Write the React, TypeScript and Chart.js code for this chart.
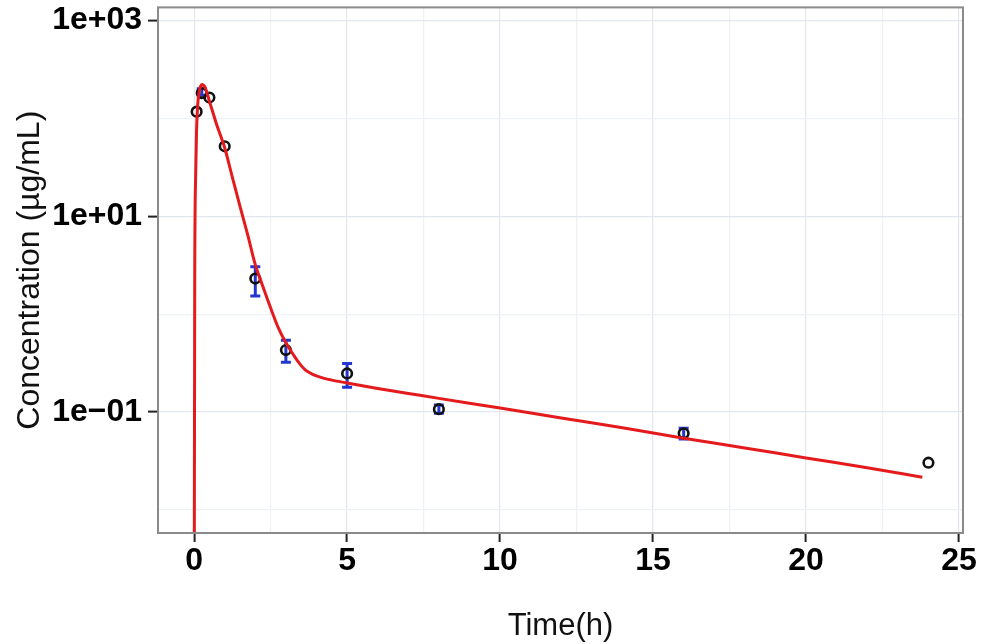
import React, { useEffect, useRef } from 'react';
import { Chart, registerables } from 'chart.js';

Chart.register(...registerables);

// Observed concentrations (mean) at each sampling time, with SD limits
const sampleTimes = [0.083, 0.25, 0.5, 1, 2, 3, 5, 8, 16, 24];
const meanConc = [117, 181, 163, 51.8, 2.31, 0.43, 0.248, 0.107, 0.0607, 0.0304];
const errLower = [null, 172, null, null, 1.53, 0.323, 0.179, 0.097, 0.053, null];
const errUpper = [null, 200, null, null, 3.04, 0.54, 0.314, 0.118, 0.0684, null];

// Model-predicted concentration curve
const fitTimes = [
  0, 0.02, 0.05, 0.08, 0.12, 0.17, 0.22, 0.26, 0.3, 0.36, 0.5, 0.75, 1, 1.25, 1.5, 1.75,
  2, 2.25, 2.5, 2.75, 3, 3.125, 3.25, 3.375, 3.5, 3.625, 3.75, 3.875, 4, 4.25, 4.5, 5,
  6, 7, 8, 10, 12, 14, 16, 18, 20, 22, 23.8,
];
const fitConc = [
  0.0001, 2, 25, 75, 140, 190, 215, 222, 218, 207, 150, 84, 50, 25, 12.6, 6.5,
  3.2, 1.91, 1.16, 0.73, 0.51, 0.44, 0.383, 0.335, 0.298, 0.272, 0.255, 0.243, 0.234, 0.221, 0.212, 0.198,
  0.174, 0.155, 0.138, 0.11, 0.087, 0.069, 0.054, 0.043, 0.034, 0.027, 0.0216,
];

// Axis ticks
const xMajorTicks = [0, 5, 10, 15, 20, 25];
const xTickLabels = ['0', '5', '10', '15', '20', '25'];
const xMinorTicks = [2.5, 7.5, 12.5, 17.5, 22.5];
const yMajorTicks = [0.1, 10, 1000];
const yTickLabels = ['1e\u221201', '1e+01', '1e+03'];
const yMinorTicks = [0.01, 1, 100];

const xTitle = 'Time(h)';
const yTitle = 'Concentration (\u00b5g/mL)';

const near = (a: number, b: number) => Math.abs(a - b) <= Math.abs(b) * 1e-6 + 1e-9;
const majorIndex = (list: number[], v: number) => list.findIndex((m) => near(v, m));

const FONT = "'Liberation Sans', Arial, Helvetica, sans-serif";

const errorBarPlugin = {
  id: 'errorBars',
  beforeDatasetsDraw(chart: any) {
    const { ctx, scales } = chart;
    const x = scales.x;
    const y = scales.y;
    ctx.save();
    ctx.strokeStyle = '#2436d0';
    ctx.lineWidth = 3;
    sampleTimes.forEach((t, i) => {
      const lo = errLower[i];
      const hi = errUpper[i];
      if (lo == null || hi == null) return;
      const px = x.getPixelForValue(t);
      const yl = y.getPixelForValue(lo);
      const yh = y.getPixelForValue(hi);
      const w = 5;
      ctx.beginPath();
      ctx.moveTo(px, yl);
      ctx.lineTo(px, yh);
      ctx.moveTo(px - w, yl);
      ctx.lineTo(px + w, yl);
      ctx.moveTo(px - w, yh);
      ctx.lineTo(px + w, yh);
      ctx.stroke();
    });
    ctx.restore();
  },
};

const panelBorderPlugin = {
  id: 'panelBorder',
  afterDatasetsDraw(chart: any) {
    const { ctx, chartArea } = chart;
    ctx.save();
    ctx.strokeStyle = '#8a8a8a';
    ctx.lineWidth = 2;
    ctx.strokeRect(chartArea.left, chartArea.top, chartArea.right - chartArea.left, chartArea.bottom - chartArea.top);
    ctx.restore();
  },
};

export default function App() {
  const canvasRef = useRef<HTMLCanvasElement>(null);

  useEffect(() => {
    const canvas = canvasRef.current;
    if (!canvas) return;

    const chart = new Chart(canvas, {
      type: 'line',
      data: {
        datasets: [
          {
            type: 'line',
            label: 'Predicted',
            data: fitTimes.map((t, i) => ({ x: t, y: fitConc[i] })),
            borderColor: '#e41a1c',
            borderWidth: 3,
            pointRadius: 0,
            cubicInterpolationMode: 'monotone',
            fill: false,
            order: 1,
          },
          {
            type: 'scatter',
            label: 'Observed',
            data: sampleTimes.map((t, i) => ({ x: t, y: meanConc[i] })),
            pointStyle: 'circle',
            pointRadius: 4.8,
            pointBorderWidth: 2.6,
            pointBorderColor: '#111',
            pointBackgroundColor: 'rgba(0,0,0,0)',
            showLine: false,
            order: 2,
          } as any,
        ],
      },
      options: {
        animation: false,
        responsive: false,
        devicePixelRatio: 1,
        layout: { padding: { top: 7, right: 19, left: 0, bottom: 0 } },
        plugins: {
          legend: { display: false },
          tooltip: { enabled: false },
        },
        scales: {
          x: {
            type: 'linear',
            min: -1.18,
            max: 25.13,
            afterBuildTicks: (scale: any) => {
              scale.ticks = [...xMajorTicks, ...xMinorTicks].sort((a, b) => a - b).map((v) => ({ value: v }));
            },
            afterFit: (scale: any) => {
              scale.height = 111;
              scale.paddingLeft = 0;
              scale.paddingRight = 0;
            },
            border: { display: false },
            grid: {
              color: (c: any) => (majorIndex(xMajorTicks, c.tick?.value) >= 0 ? '#e2e6ee' : '#eef1f6'),
              lineWidth: 1.2,
              drawTicks: true,
              tickLength: 9,
              tickWidth: 2,
              tickColor: (c: any) => (majorIndex(xMajorTicks, c.tick?.value) >= 0 ? '#222' : 'rgba(0,0,0,0)'),
            },
            ticks: {
              autoSkip: false,
              maxRotation: 0,
              padding: 0,
              color: '#000',
              font: { family: FONT, size: 32, weight: 'bold' },
              callback: (v: any) => {
                const i = majorIndex(xMajorTicks, Number(v));
                return i >= 0 ? xTickLabels[i] : '';
              },
            },
            title: {
              display: true,
              text: xTitle,
              color: '#111',
              font: { family: FONT, size: 31, lineHeight: 1.2 },
              padding: { top: 0, bottom: -1 },
            },
          },
          y: {
            type: 'logarithmic',
            min: 0.00582,
            max: 1358,
            afterBuildTicks: (scale: any) => {
              scale.ticks = [...yMajorTicks, ...yMinorTicks].sort((a, b) => a - b).map((v) => ({ value: v }));
            },
            afterFit: (scale: any) => {
              scale.width = 158;
              scale.paddingTop = 0;
              scale.paddingBottom = 0;
            },
            border: { display: false },
            grid: {
              color: (c: any) => (majorIndex(yMajorTicks, c.tick?.value) >= 0 ? '#e2e6ee' : '#eef1f6'),
              lineWidth: 1.2,
              drawTicks: true,
              tickLength: 10,
              tickWidth: 2,
              tickColor: (c: any) => (majorIndex(yMajorTicks, c.tick?.value) >= 0 ? '#222' : 'rgba(0,0,0,0)'),
            },
            ticks: {
              autoSkip: false,
              padding: 6,
              color: '#000',
              font: { family: FONT, size: 32, weight: 'bold' },
              callback: (v: any) => {
                const i = majorIndex(yMajorTicks, Number(v));
                return i >= 0 ? yTickLabels[i] : '';
              },
            },
            title: {
              display: true,
              text: yTitle,
              color: '#111',
              font: { family: FONT, size: 32, lineHeight: 1.2 },
              padding: { top: 11, bottom: 0 },
            },
          },
        },
      },
      plugins: [errorBarPlugin, panelBorderPlugin],
    } as any);

    return () => chart.destroy();
  }, []);

  return (
    <div style={{ position: 'fixed', left: 0, top: 0, width: 982, height: 644, background: '#fff' }}>
      <canvas ref={canvasRef} width={982} height={644} style={{ width: 982, height: 644, display: 'block' }} />
    </div>
  );
}
